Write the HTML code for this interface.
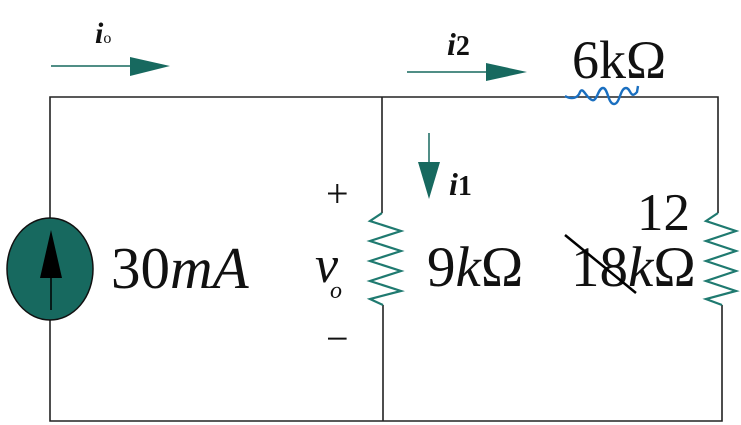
<!DOCTYPE html>
<html><head><style>body{margin:0;background:#fff}svg{display:block}</style></head><body>
<svg width="741" height="425" viewBox="0 0 741 425" xmlns="http://www.w3.org/2000/svg" font-family="Liberation Serif, serif">
<g stroke="#222" stroke-width="1.6" fill="none">
<polyline points="50,218 50,97 718,97 718,213"/>
<polyline points="50,320 50,421 722,421 722,305"/>
<line x1="382" y1="97" x2="382" y2="213"/>
<line x1="383" y1="305" x2="383" y2="421"/>
</g>
<ellipse cx="50" cy="269" rx="43" ry="51" fill="#17695f" stroke="#111" stroke-width="1.5"/>
<line x1="51" y1="260" x2="51" y2="310" stroke="#000" stroke-width="1.5"/>
<polygon points="51,230 40,278 62,278" fill="#000"/>
<g stroke="#1f7a70" stroke-width="2.2" fill="none">
<polyline points="382,213 370,221 401,231 370,241 401,251 370,261 401,271 370,281 401,291 370,299 383,305"/>
<polyline points="718,213 706,221 736,231 706,241 736,251 706,261 736,271 706,281 736,291 706,299 722,305"/>
</g>
<g stroke="#17695f" fill="#17695f">
<line x1="51" y1="66" x2="132" y2="66" stroke-width="1.5"/>
<polygon points="130,57 170,66 130,76" stroke="none"/>
<line x1="407" y1="72" x2="488" y2="72" stroke-width="1.5"/>
<polygon points="486,63 527,72 486,81" stroke="none"/>
<line x1="429" y1="133" x2="429" y2="164" stroke-width="1.5"/>
<polygon points="418,162 440,162 429,199" stroke="none"/>
</g>
<path d="M565,96 C572,100 578,98 580,92 C583,86 586,98 592,100 C597,102 598,88 603,88 C608,88 608,104 614,104 C620,104 620,88 626,88 C631,88 630,100 637,92 L638,86" stroke="#1a6fc0" stroke-width="2.4" fill="none"/>
<text x="95" y="43" font-size="30" font-style="italic" font-weight="bold" fill="#111">i<tspan font-size="16" font-style="normal" font-weight="normal">o</tspan></text>
<text x="447" y="55" font-size="32" font-style="italic" font-weight="bold" fill="#111">i<tspan font-size="28" font-style="normal">2</tspan></text>
<text x="449" y="195" font-size="32" font-style="italic" font-weight="bold" fill="#111">i<tspan font-size="28" font-style="normal">1</tspan></text>
<text x="111" y="288" font-size="59" fill="#111">30<tspan font-style="italic">mA</tspan></text>
<text x="326" y="207" font-size="40" fill="#111">+</text>
<text x="326" y="352" font-size="40" fill="#111">−</text>
<text x="315" y="282" font-size="52" font-style="italic" fill="#111">v</text>
<text x="330" y="298" font-size="24" font-style="italic" fill="#111">o</text>
<text x="427" y="286" font-size="57" fill="#111">9<tspan font-style="italic">k</tspan>Ω</text>
<text x="572" y="78" font-size="54" fill="#111">6kΩ</text>
<text x="637" y="230" font-size="53" fill="#111">12</text>
<text x="571" y="286" font-size="57" fill="#111">18<tspan font-style="italic">k</tspan>Ω</text>
<line x1="565" y1="235" x2="636" y2="293" stroke="#000" stroke-width="2.5"/>
</svg>
</body></html>
